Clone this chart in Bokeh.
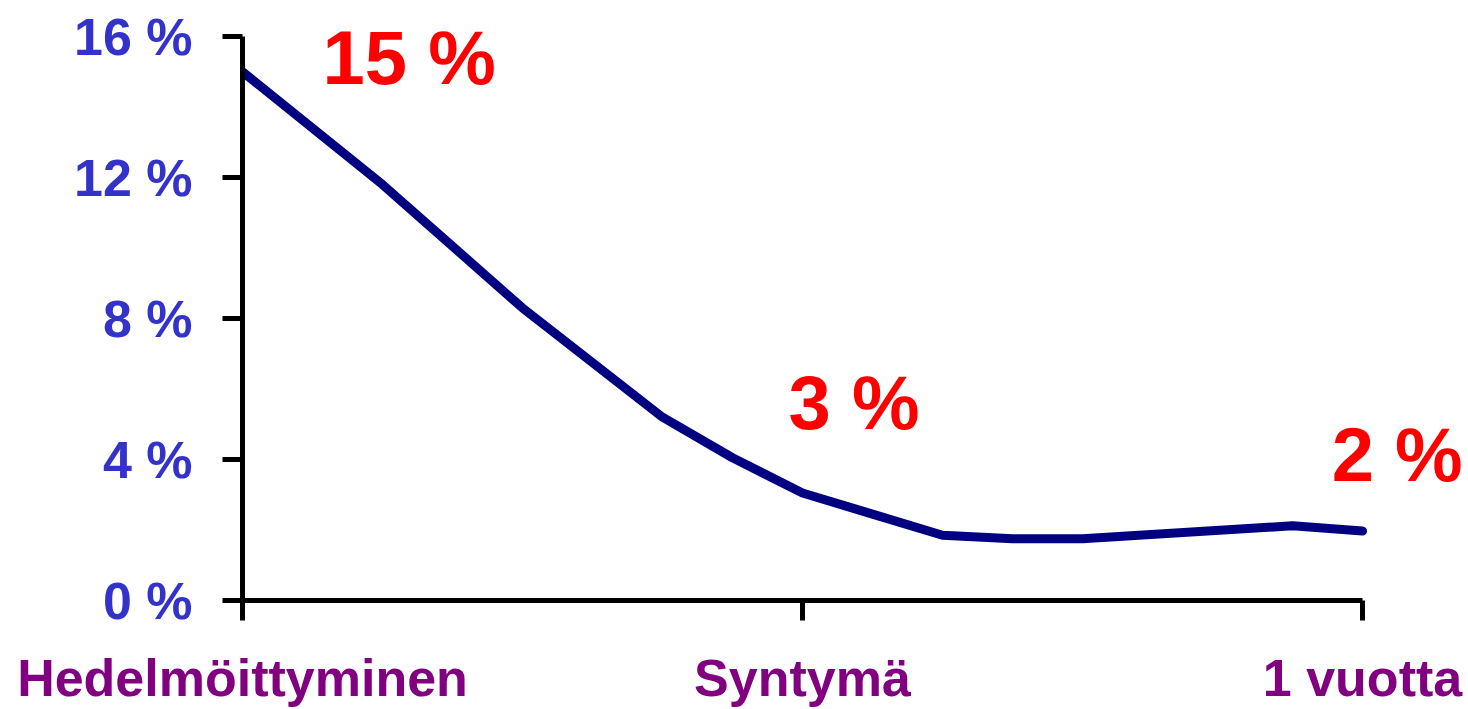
from bokeh.plotting import figure
from bokeh.models import FixedTicker, Range1d, Label
from bokeh.embed import file_html
from bokeh.resources import INLINE

# Data (x: 0 = Hedelmöittyminen, 1 = Syntymä, 2 = 1 vuotta; y in %)
x_vals = [0, 0.25, 0.5, 0.75, 0.875, 1.0, 1.125, 1.25, 1.375, 1.5, 1.875, 2.0]
y_vals = [15.0, 11.8, 8.3, 5.2, 4.05, 3.05, 2.45, 1.85, 1.75, 1.75, 2.12, 1.97]

x_ticks = [0, 1, 2]
x_labels = ["Hedelmöittyminen", "Syntymä", "1 vuotta"]
y_ticks = [0, 4, 8, 12, 16]
y_labels = ["0 %", "4 %", "8 %", "12 %", "16 %"]

note_text = ["15 %", "3 %", "2 %"]
note_x = [0.143, 0.975, 1.945]
note_y = [15.4, 5.62, 4.15]

FONT = "Liberation Sans"

# frame scale: 560 px per x unit, 35.25 px per y unit; the ranges extend past
# the axis bounds so that the annotations are not clipped by the frame
FRAME_W = 1468 - 242 - 2
FRAME_H = 709 - 2 - 109
p = figure(width=1468, height=709, output_backend="svg", toolbar_location=None,
           x_range=Range1d(0, FRAME_W / 560), y_range=Range1d(0, FRAME_H / 35.25),
           min_border_left=242, min_border_right=2, min_border_top=2, min_border_bottom=109)
p.outline_line_color = None
p.grid.visible = False
p.background_fill_color = "white"

p.line(x_vals, y_vals, line_color="#000080", line_width=9, line_cap="round", line_join="round")

for ax in (p.xaxis[0], p.yaxis[0]):
    ax.axis_line_color = "black"
    ax.axis_line_width = 5
    ax.major_tick_line_color = "black"
    ax.major_tick_line_width = 5
    ax.major_tick_in = 0
    ax.major_tick_out = 20
    ax.minor_tick_line_color = None
    ax.major_label_text_font = FONT
    ax.major_label_text_font_style = "bold"
    ax.major_label_text_font_size = "52px"

p.xaxis.bounds = (0, 2)
p.xaxis.ticker = FixedTicker(ticks=x_ticks)
p.xaxis.major_label_overrides = {t: l for t, l in zip(x_ticks, x_labels)}
p.xaxis.major_label_text_color = "#800080"
p.xaxis.major_label_standoff = 28

p.yaxis.bounds = (0, 16)
p.yaxis.ticker = FixedTicker(ticks=y_ticks)
p.yaxis.major_label_overrides = {t: l for t, l in zip(y_ticks, y_labels)}
p.yaxis.major_label_text_color = "#3333CC"
p.yaxis.major_label_standoff = 30

for t, xv, yv in zip(note_text, note_x, note_y):
    p.add_layout(Label(x=xv, y=yv, text=t, text_color="#FF0000",
                       text_font=FONT, text_font_style="bold", text_font_size="76px",
                       text_baseline="alphabetic", text_align="left"))

open("out.html", "w").write(file_html(p, INLINE))
